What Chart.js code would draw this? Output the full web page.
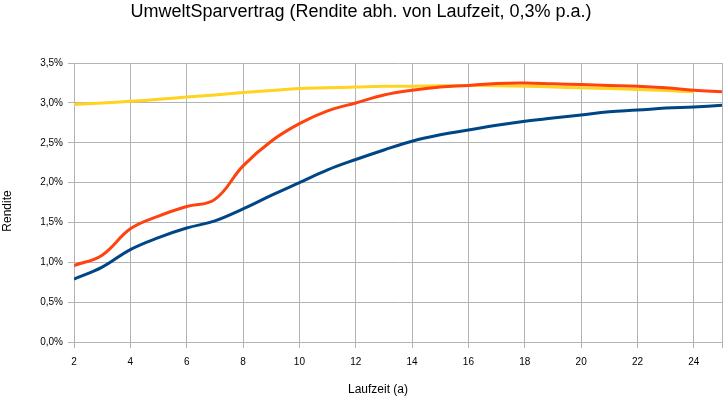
<!DOCTYPE html>
<html><head><meta charset="utf-8">
<script src="https://cdn.jsdelivr.net/npm/chart.js@4"></script>
<style>html,body{margin:0;padding:0;background:#fff}#wrap{width:723px;height:399px}</style>
</head><body><div id="wrap"><canvas id="c" width="723" height="399"></canvas></div>
<script>
const titleText = 'UmweltSparvertrag (Rendite abh. von Laufzeit, 0,3% p.a.)';
const xTitle = 'Laufzeit (a)';
const yTitle = 'Rendite';
const years = [2,3,4,5,6,7,8,9,10,11,12,13,14,15,16,17,18,19,20,21,22,23,24,25];
const seriesBlue   = [0.79,0.94,1.16,1.31,1.43,1.52,1.67,1.84,2.00,2.16,2.29,2.41,2.52,2.60,2.66,2.72,2.77,2.81,2.85,2.89,2.91,2.935,2.95,2.97];
const seriesOrange = [0.96,1.09,1.42,1.58,1.70,1.79,2.21,2.52,2.74,2.90,3.00,3.10,3.16,3.20,3.22,3.245,3.25,3.24,3.23,3.22,3.21,3.19,3.16,3.14];
const seriesYellow = [2.98,3.00,3.02,3.045,3.075,3.10,3.13,3.155,3.18,3.19,3.20,3.21,3.21,3.215,3.22,3.215,3.21,3.20,3.19,3.18,3.17,3.155,3.14,null];
const yTicks = [0,0.5,1,1.5,2,2.5,3,3.5];

const toPts = arr => years.map((x,i)=>({x:x,y:arr[i]}));
const FONT = "'Liberation Sans', Arial, sans-serif";

const axisTitles = {
  id:'axisTitles',
  afterDraw(chart){
    const ctx = chart.ctx;
    ctx.save();
    ctx.fillStyle = '#000';
    ctx.font = "12px " + FONT;
    ctx.textAlign = 'center';
    ctx.textBaseline = 'middle';
    ctx.fillText(xTitle, 378, 390);
    ctx.translate(8, 211);
    ctx.rotate(-Math.PI/2);
    ctx.fillText(yTitle, 0, 0);
    ctx.restore();
  }
};

new Chart(document.getElementById('c'), {
  type:'line',
  data:{datasets:[
    {data:toPts(seriesBlue), borderColor:'#004586', borderWidth:3, pointRadius:0, tension:0.4, fill:false},
    {data:toPts(seriesOrange), borderColor:'#ff420e', borderWidth:3, pointRadius:0, tension:0.4, fill:false},
    {data:toPts(seriesYellow), borderColor:'#ffd320', borderWidth:3, pointRadius:0, tension:0.4, fill:false}
  ]},
  options:{
    responsive:false, animation:false,
    layout:{padding:{left:0,right:1,top:0,bottom:0}},
    plugins:{
      legend:{display:false}, tooltip:{enabled:false},
      title:{display:true, text:titleText, color:'#000', font:{family:FONT, size:18, weight:'normal'}, padding:{top:1,bottom:40.5}}
    },
    scales:{
      x:{type:'linear', min:2, max:25,
        afterFit(s){ s.height = 57; s.paddingRight = 0; s.paddingLeft = 0; },
        afterBuildTicks(s){ s.ticks = years.filter(v=>v%2===0 || v===25).map(v=>({value:v})); },
        ticks:{color:'#000', font:{family:FONT,size:10}, padding:8, maxRotation:0, autoSkip:false,
          callback:v=> (v%2===0 ? String(v) : '')},
        grid:{color:'#b3b3b3', tickLength:6, drawTicks:true},
        border:{color:'#b3b3b3'}
      },
      y:{min:0, max:3.5,
        afterFit(s){ s.width = 74; s.paddingTop = 0; s.paddingBottom = 0; },
        afterBuildTicks(s){ s.ticks = yTicks.map(v=>({value:v})); },
        ticks:{color:'#000', font:{family:FONT,size:10}, padding:5,
          callback:v=> v.toFixed(1).replace('.',',') + '%'},
        grid:{color:'#b3b3b3', tickLength:6},
        border:{color:'#b3b3b3'}
      }
    }
  },
  plugins:[axisTitles]
});
</script></body></html>
